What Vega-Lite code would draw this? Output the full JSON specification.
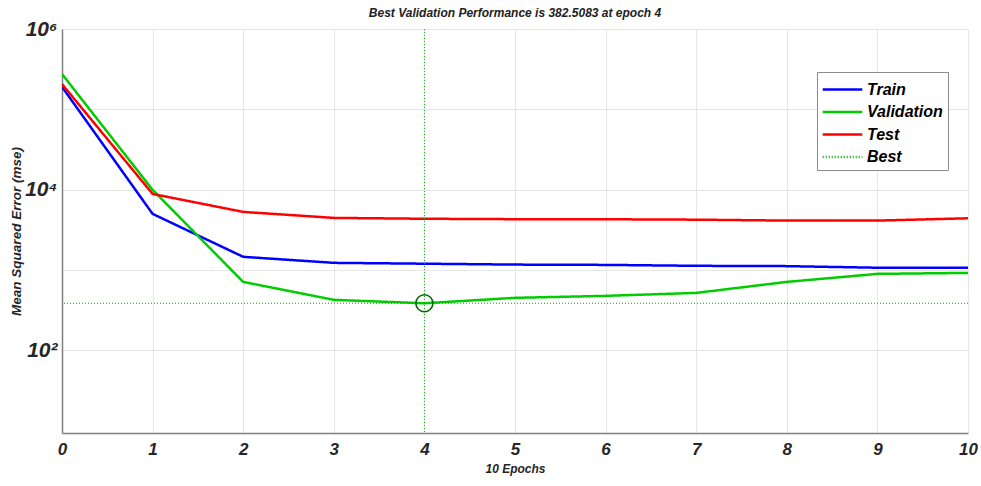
{
  "$schema": "https://vega.github.io/schema/vega-lite/v6.json",
  "width": 906,
  "height": 404,
  "autosize": {"type": "none"},
  "padding": {"left": 62, "top": 29, "right": 13, "bottom": 53},
  "background": "white",
  "title": {"text": "Best Validation Performance is 382.5083 at epoch 4", "font": "Liberation Sans", "fontSize": 12, "fontWeight": "bold", "fontStyle": "italic", "color": "#222222", "anchor": "middle", "offset": -2},
  "config": {
    "view": {"stroke": null},
    "axis": {"labelFont": "Liberation Sans", "titleFont": "Liberation Sans", "labelFontWeight": "bold", "labelFontStyle": "italic", "titleFontWeight": "bold", "titleFontStyle": "italic", "labelColor": "#262626", "titleColor": "#262626", "domainColor": "#808080", "domainWidth": 1.5, "gridColor": "#e6e6e6", "gridWidth": 1, "tickColor": "#808080", "labelFlush": false},
    "legend": {"labelFont": "Liberation Sans", "labelFontWeight": "bold", "labelFontStyle": "italic", "labelFontSize": 16, "labelColor": "#000000"}
  },
  "datasets": {
    "perf": [
      {"epoch": 0, "series": "Train", "mse": 190000}, {"epoch": 1, "series": "Train", "mse": 4970}, {"epoch": 2, "series": "Train", "mse": 1450}, {"epoch": 3, "series": "Train", "mse": 1220}, {"epoch": 4, "series": "Train", "mse": 1190}, {"epoch": 5, "series": "Train", "mse": 1160}, {"epoch": 6, "series": "Train", "mse": 1150}, {"epoch": 7, "series": "Train", "mse": 1120}, {"epoch": 8, "series": "Train", "mse": 1110}, {"epoch": 9, "series": "Train", "mse": 1060}, {"epoch": 10, "series": "Train", "mse": 1060},
      {"epoch": 0, "series": "Validation", "mse": 275000}, {"epoch": 1, "series": "Validation", "mse": 9900}, {"epoch": 2, "series": "Validation", "mse": 706}, {"epoch": 3, "series": "Validation", "mse": 422}, {"epoch": 4, "series": "Validation", "mse": 382.5083}, {"epoch": 5, "series": "Validation", "mse": 447}, {"epoch": 6, "series": "Validation", "mse": 473}, {"epoch": 7, "series": "Validation", "mse": 515}, {"epoch": 8, "series": "Validation", "mse": 706}, {"epoch": 9, "series": "Validation", "mse": 889}, {"epoch": 10, "series": "Validation", "mse": 914},
      {"epoch": 0, "series": "Test", "mse": 206000}, {"epoch": 1, "series": "Test", "mse": 8810}, {"epoch": 2, "series": "Test", "mse": 5260}, {"epoch": 3, "series": "Test", "mse": 4430}, {"epoch": 4, "series": "Test", "mse": 4320}, {"epoch": 5, "series": "Test", "mse": 4270}, {"epoch": 6, "series": "Test", "mse": 4260}, {"epoch": 7, "series": "Test", "mse": 4210}, {"epoch": 8, "series": "Test", "mse": 4100}, {"epoch": 9, "series": "Test", "mse": 4100}, {"epoch": 10, "series": "Test", "mse": 4380}
    ],
    "bestx": [{"series": "Best", "epoch": 4}],
    "besty": [{"series": "Best", "mse": 382.5083}],
    "bestpt": [{"epoch": 4, "mse": 382.5083}]
  },
  "layer": [
    {
      "data": {"name": "perf"},
      "mark": {"type": "line", "strokeWidth": 2.5, "clip": true},
      "encoding": {
        "x": {"field": "epoch", "type": "quantitative", "scale": {"domain": [0, 10], "nice": false}, "axis": {"values": [0,1,2,3,4,5,6,7,8,9,10], "format": "d", "title": "10 Epochs", "titleFontSize": 12, "labelFontSize": 17, "labelPadding": 8, "titlePadding": 6, "ticks": false, "grid": true}},
        "y": {"field": "mse", "type": "quantitative", "scale": {"type": "log", "domain": [9.25, 1000000], "nice": false}, "axis": {"values": [100, 1000, 10000, 100000, 1000000], "labelExpr": "datum.value == 100 ? '10²' : datum.value == 10000 ? '10⁴' : datum.value == 1000000 ? '10⁶' : ''", "title": "Mean Squared Error  (mse)", "titleFontSize": 13.5, "labelFontSize": 21, "labelPadding": 5, "titleX": -39, "ticks": false, "grid": true}},
        "color": {"field": "series", "type": "nominal", "scale": {"domain": ["Train", "Validation", "Test", "Best"], "range": ["#0000ff", "#00cc00", "#ff0000", "#00b000"]}, "legend": {"title": null, "orient": "none", "legendX": 755, "legendY": 43, "symbolType": "M-1.8,0L1.8,0", "symbolSize": 484, "symbolStrokeWidth": 2.5, "symbolOffset": 8, "labelOffset": 12, "rowPadding": 1.5, "padding": 5, "strokeColor": "#8c8c8c", "fillColor": "white", "labelLimit": 200}},
        "strokeDash": {"field": "series", "type": "nominal", "scale": {"domain": ["Train", "Validation", "Test", "Best"], "range": [[1, 0], [1, 0], [1, 0], [1, 2]]}, "legend": {"title": null}}
      }
    },
    {
      "data": {"name": "bestx"},
      "mark": {"type": "rule", "strokeWidth": 1},
      "encoding": {
        "x": {"field": "epoch", "type": "quantitative"},
        "color": {"field": "series", "type": "nominal"},
        "strokeDash": {"field": "series", "type": "nominal"}
      }
    },
    {
      "data": {"name": "besty"},
      "mark": {"type": "rule", "strokeWidth": 1},
      "encoding": {
        "y": {"field": "mse", "type": "quantitative"},
        "color": {"field": "series", "type": "nominal"},
        "strokeDash": {"field": "series", "type": "nominal"}
      }
    },
    {
      "data": {"name": "bestpt"},
      "mark": {"type": "point", "shape": "circle", "filled": false, "size": 290, "strokeWidth": 1.6, "color": "#006b00", "opacity": 1},
      "encoding": {
        "x": {"field": "epoch", "type": "quantitative"},
        "y": {"field": "mse", "type": "quantitative"}
      }
    }
  ]
}
